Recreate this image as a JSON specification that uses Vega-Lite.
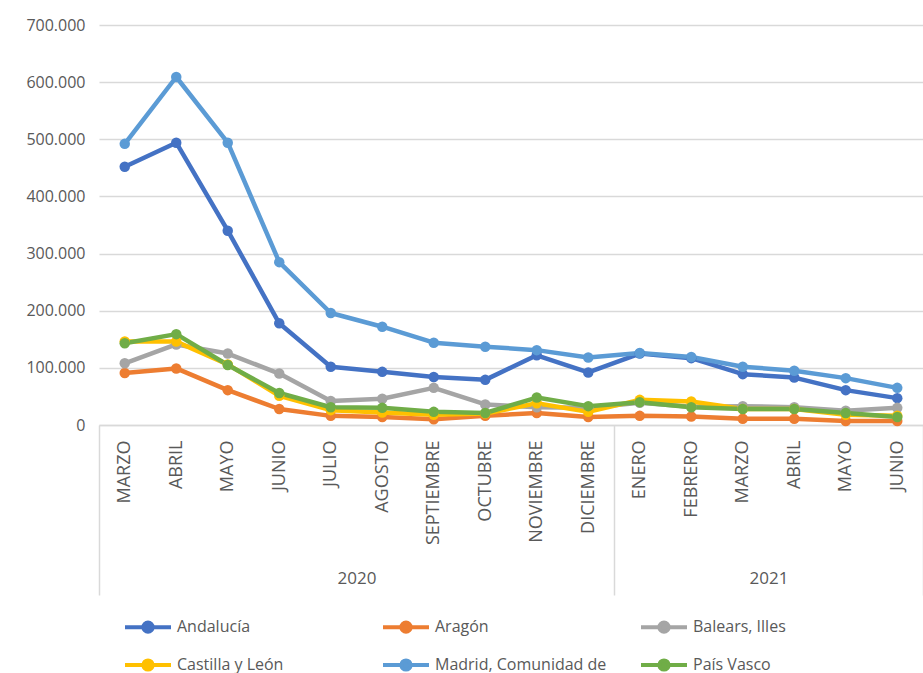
{
  "$schema": "https://vega.github.io/schema/vega-lite/v6.json",
  "width": 824,
  "height": 400,
  "autosize": {"type": "none"},
  "padding": {"left": 99, "top": 25, "right": 0, "bottom": 248},
  "background": "white",
  "datasets": {
    "serie": [
      {"periodo": "MARZO 2020", "Andalucía": 452000, "Aragón": 91000, "Balears, Illes": 108000, "Castilla y León": 146000, "Madrid, Comunidad de": 492000, "País Vasco": 143000},
      {"periodo": "ABRIL 2020", "Andalucía": 494000, "Aragón": 99000, "Balears, Illes": 141000, "Castilla y León": 146000, "Madrid, Comunidad de": 609000, "País Vasco": 159000},
      {"periodo": "MAYO 2020", "Andalucía": 340000, "Aragón": 61000, "Balears, Illes": 125000, "Castilla y León": 106000, "Madrid, Comunidad de": 494000, "País Vasco": 105000},
      {"periodo": "JUNIO 2020", "Andalucía": 178000, "Aragón": 28000, "Balears, Illes": 90000, "Castilla y León": 51000, "Madrid, Comunidad de": 285000, "País Vasco": 56000},
      {"periodo": "JULIO 2020", "Andalucía": 102000, "Aragón": 16000, "Balears, Illes": 42000, "Castilla y León": 26000, "Madrid, Comunidad de": 196000, "País Vasco": 31000},
      {"periodo": "AGOSTO 2020", "Andalucía": 93000, "Aragón": 14000, "Balears, Illes": 46000, "Castilla y León": 22000, "Madrid, Comunidad de": 172000, "País Vasco": 30000},
      {"periodo": "SEPTIEMBRE 2020", "Andalucía": 84000, "Aragón": 10000, "Balears, Illes": 65000, "Castilla y León": 18000, "Madrid, Comunidad de": 144000, "País Vasco": 23000},
      {"periodo": "OCTUBRE 2020", "Andalucía": 79000, "Aragón": 16000, "Balears, Illes": 36000, "Castilla y León": 20000, "Madrid, Comunidad de": 137000, "País Vasco": 21000},
      {"periodo": "NOVIEMBRE 2020", "Andalucía": 122000, "Aragón": 21000, "Balears, Illes": 31000, "Castilla y León": 38000, "Madrid, Comunidad de": 131000, "País Vasco": 48000},
      {"periodo": "DICIEMBRE 2020", "Andalucía": 92000, "Aragón": 14000, "Balears, Illes": 30000, "Castilla y León": 23000, "Madrid, Comunidad de": 118000, "País Vasco": 33000},
      {"periodo": "ENERO 2021", "Andalucía": 125000, "Aragón": 16000, "Balears, Illes": 39000, "Castilla y León": 44000, "Madrid, Comunidad de": 126000, "País Vasco": 40000},
      {"periodo": "FEBRERO 2021", "Andalucía": 117000, "Aragón": 15000, "Balears, Illes": 32000, "Castilla y León": 41000, "Madrid, Comunidad de": 119000, "País Vasco": 31000},
      {"periodo": "MARZO 2021", "Andalucía": 89000, "Aragón": 11000, "Balears, Illes": 33000, "Castilla y León": 28000, "Madrid, Comunidad de": 102000, "País Vasco": 28000},
      {"periodo": "ABRIL 2021", "Andalucía": 83000, "Aragón": 11000, "Balears, Illes": 31000, "Castilla y León": 28000, "Madrid, Comunidad de": 95000, "País Vasco": 28000},
      {"periodo": "MAYO 2021", "Andalucía": 61000, "Aragón": 7000, "Balears, Illes": 25000, "Castilla y León": 18000, "Madrid, Comunidad de": 82000, "País Vasco": 21000},
      {"periodo": "JUNIO 2021", "Andalucía": 47000, "Aragón": 7000, "Balears, Illes": 30000, "Castilla y León": 16000, "Madrid, Comunidad de": 65000, "País Vasco": 14000}
    ],
    "anios": [
      {"pos": 5, "anio": "2020"},
      {"pos": 13, "anio": "2021"}
    ]
  },
  "layer": [
    {
      "data": {"name": "serie"},
      "transform": [
        {"fold": ["Andalucía", "Aragón", "Balears, Illes", "Castilla y León", "Madrid, Comunidad de", "País Vasco"], "as": ["region", "valor"]}
      ],
      "encoding": {
        "x": {
          "field": "periodo",
          "type": "ordinal",
          "sort": null,
          "scale": {"type": "band", "paddingInner": 0, "paddingOuter": 0},
          "axis": {
            "title": null,
            "labelExpr": "isValid(datum.value) ? split(datum.value, ' ')[0] : ''",
            "labelAngle": -90,
            "labelFont": "Open Sans",
            "labelFontSize": 18,
            "labelColor": "#595959",
            "labelPadding": -155,
            "ticks": true,
            "tickSize": 170,
            "tickBand": "extent",
            "tickColor": "#d9d9d9",
            "tickWidth": 1.5,
            "tickOpacity": {"condition": {"test": "!isValid(datum.value) || datum.value == 'DICIEMBRE 2020' || datum.value == 'JUNIO 2021'", "value": 1}, "value": 0},
            "domainColor": "#d9d9d9",
            "domainWidth": 1.5,
            "grid": false
          }
        },
        "y": {
          "field": "valor",
          "type": "quantitative",
          "scale": {"domain": [0, 700000], "nice": false},
          "axis": {
            "title": null,
            "values": [0, 100000, 200000, 300000, 400000, 500000, 600000, 700000],
            "labelExpr": "replace(format(datum.value, ','), ',', '.')",
            "domain": false,
            "ticks": false,
            "labelPadding": 14,
            "gridColor": "#d9d9d9",
            "gridWidth": 1.5,
            "labelFont": "Open Sans",
            "labelFontSize": 16,
            "labelColor": "#595959"
          }
        },
        "color": {
          "field": "region",
          "type": "nominal",
          "scale": {
            "domain": ["Andalucía", "Aragón", "Balears, Illes", "Castilla y León", "Madrid, Comunidad de", "País Vasco"],
            "range": ["#4472C4", "#ED7D31", "#A5A5A5", "#FFC000", "#5B9BD5", "#70AD47"]
          },
          "legend": {
            "orient": "none",
            "legendX": 24,
            "legendY": 577,
            "columns": 3,
            "direction": "horizontal",
            "title": null,
            "symbolType": "M-1,0H-0.2A0.2,0.2 0 1,1 0.2,0H1M0.2,0A0.2,0.2 0 1,1 -0.2,0",
            "symbolSize": 2116,
            "symbolStrokeWidth": 4,
            "labelFont": "Open Sans",
            "labelFontSize": 16,
            "labelColor": "#595959",
            "labelLimit": 400,
            "gridAlign": "all",
            "columnPadding": 26,
            "rowPadding": -13,
            "padding": 0,
            "encode": {
              "symbols": {
                "update": {
                  "stroke": {"scale": "color", "field": "value"},
                  "fill": {"scale": "color", "field": "value"},
                  "strokeWidth": {"value": 4},
                  "opacity": {"value": 1}
                }
              }
            }
          }
        }
      },
      "layer": [
        {"mark": {"type": "line", "strokeWidth": 4.5, "strokeJoin": "round", "strokeCap": "round"}},
        {"mark": {"type": "point", "filled": true, "size": 110, "opacity": 1}}
      ]
    },
    {
      "data": {"name": "anios"},
      "mark": {"type": "point", "opacity": 0},
      "encoding": {
        "x": {
          "field": "pos",
          "type": "quantitative",
          "scale": {"domain": [0, 16], "nice": false, "zero": false},
          "axis": {
            "title": null,
            "orient": "bottom",
            "values": [5, 13],
            "labelExpr": "datum.value == 5 ? '2020' : '2021'",
            "ticks": false,
            "domain": false,
            "grid": false,
            "labelPadding": 145,
            "labelAngle": 0,
            "labelFont": "Open Sans",
            "labelFontSize": 17,
            "labelColor": "#595959"
          }
        }
      }
    }
  ],
  "resolve": {"scale": {"x": "independent"}},
  "config": {
    "view": {"stroke": null}
  }
}
